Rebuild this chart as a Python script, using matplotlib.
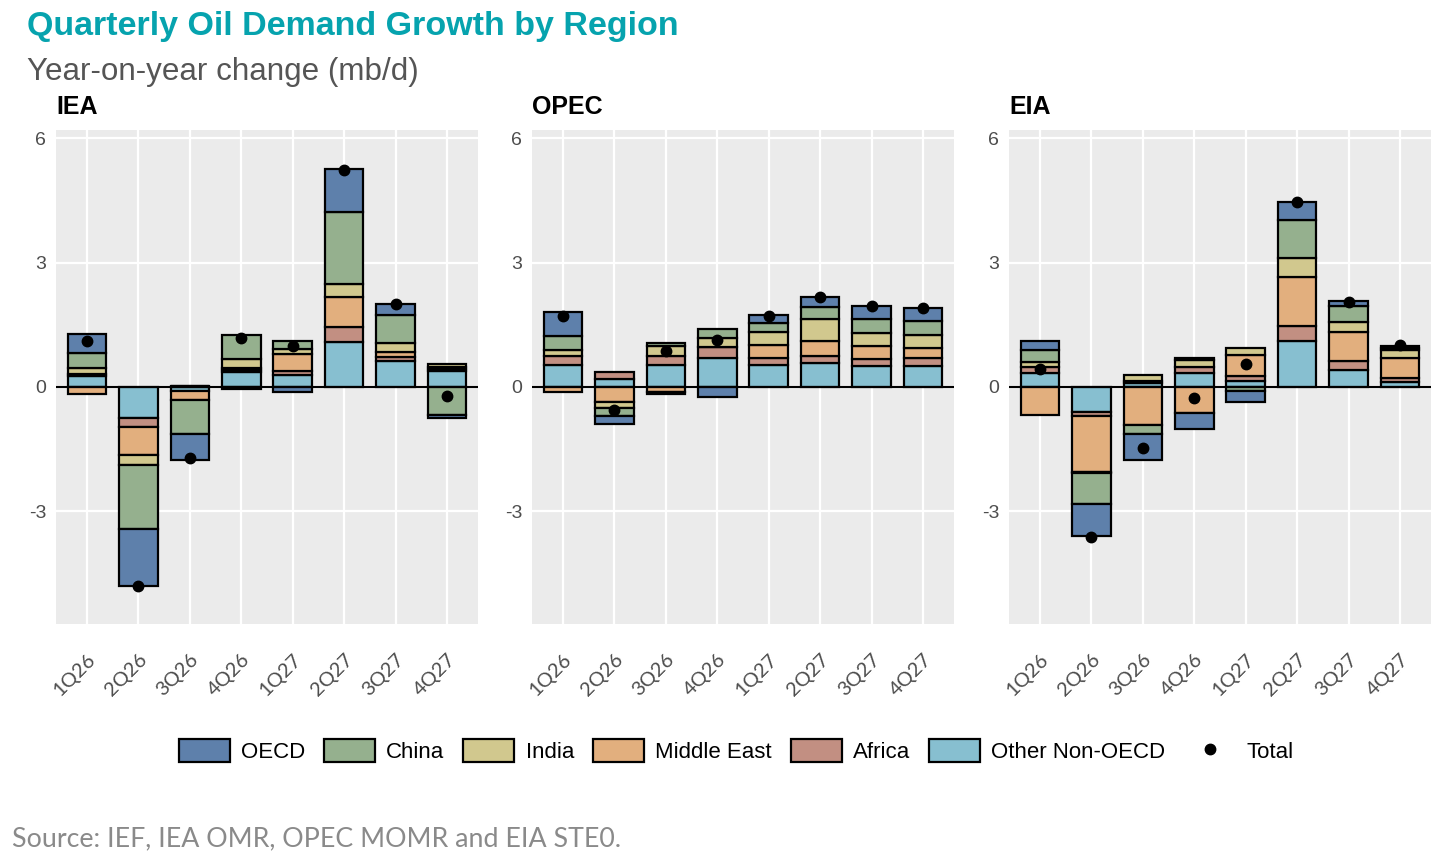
import matplotlib.pyplot as plt
import numpy as np
from matplotlib.patches import Patch
from matplotlib.lines import Line2D

plt.rcParams['font.family'] = ['Liberation Sans', 'DejaVu Sans']

quarters = ["1Q26", "2Q26", "3Q26", "4Q26", "1Q27", "2Q27", "3Q27", "4Q27"]
regions = ["OECD", "China", "India", "Middle East", "Africa", "Other Non-OECD"]
agencies = ["IEA", "OPEC", "EIA"]

# year-on-year change, mb/d
iea_oecd   = [0.46, -1.38, -0.64, -0.05, -0.12, 1.04, 0.28, -0.07]
iea_china  = [0.36, -1.55, -0.81, 0.57, 0.19, 1.74, 0.68, -0.68]
iea_india  = [0.14, -0.23, 0.00, 0.23, 0.12, 0.30, 0.20, 0.06]
iea_mideast = [-0.18, -0.68, -0.22, 0.03, 0.42, 0.74, 0.13, 0.06]
iea_africa = [0.05, -0.23, 0.03, 0.06, 0.10, 0.35, 0.10, 0.05]
iea_other  = [0.26, -0.74, -0.10, 0.36, 0.28, 1.09, 0.62, 0.38]
iea_total  = [1.10, -4.81, -1.72, 1.19, 0.98, 5.23, 2.00, -0.22]

opec_oecd   = [0.58, -0.19, -0.06, -0.25, 0.20, 0.24, 0.33, 0.32]
opec_china  = [0.36, -0.18, 0.08, 0.23, 0.22, 0.30, 0.34, 0.32]
opec_india  = [0.14, -0.16, 0.24, 0.20, 0.31, 0.53, 0.30, 0.31]
opec_mideast = [-0.12, -0.36, -0.12, 0.00, 0.30, 0.36, 0.32, 0.26]
opec_africa = [0.20, 0.16, 0.20, 0.27, 0.17, 0.16, 0.17, 0.18]
opec_other  = [0.54, 0.19, 0.54, 0.70, 0.54, 0.58, 0.50, 0.51]
opec_total  = [1.71, -0.55, 0.86, 1.14, 1.71, 2.16, 1.96, 1.90]

eia_oecd   = [0.22, -0.77, -0.63, -0.38, -0.27, 0.43, 0.12, 0.05]
eia_china  = [0.28, -0.75, -0.20, 0.06, -0.10, 0.92, 0.38, 0.06]
eia_india  = [0.12, -0.03, 0.14, 0.16, 0.16, 0.47, 0.24, 0.18]
eia_mideast = [-0.67, -1.35, -0.93, -0.63, 0.51, 1.18, 0.70, 0.48]
eia_africa = [0.15, -0.10, 0.05, 0.15, 0.11, 0.37, 0.21, 0.10]
eia_other  = [0.33, -0.60, 0.09, 0.33, 0.15, 1.10, 0.42, 0.12]
eia_total  = [0.44, -3.62, -1.47, -0.27, 0.56, 4.47, 2.05, 1.02]

data = {
    "IEA": [iea_oecd, iea_china, iea_india, iea_mideast, iea_africa, iea_other],
    "OPEC": [opec_oecd, opec_china, opec_india, opec_mideast, opec_africa, opec_other],
    "EIA": [eia_oecd, eia_china, eia_india, eia_mideast, eia_africa, eia_other],
}
totals = {"IEA": iea_total, "OPEC": opec_total, "EIA": eia_total}

colors = ["#5E80AB", "#95B08E", "#D1C88E", "#E2AF7E", "#C28F82", "#87BFD0"]

W, H = 1456, 856
fig = plt.figure(figsize=(W / 100, H / 100), dpi=100)

lefts = [56, 532, 1009]
pw = 422
ptop, pbot = 130, 624

x = np.arange(1, len(quarters) + 1)
for ag, left in zip(agencies, lefts):
    ax = fig.add_axes([left / W, 1 - pbot / H, pw / W, (pbot - ptop) / H])
    ax.set_facecolor('#EBEBEB')
    pos = np.zeros(len(x))
    neg = np.zeros(len(x))
    # stack from zero outwards: Other Non-OECD nearest, OECD furthest
    for i in reversed(range(len(regions))):
        v = np.array(data[ag][i])
        base = np.where(v >= 0, pos, neg)
        ax.bar(x, v, 0.75, bottom=base, color=colors[i], edgecolor='black',
               linewidth=1.6, zorder=3)
        pos += np.clip(v, 0, None)
        neg += np.clip(v, None, 0)
    ax.axhline(0, color='black', lw=1.5, zorder=4)
    ax.plot(x, totals[ag], 'o', color='black', ms=7.5, zorder=5)

    ax.set_xlim(0.4, 8.6)
    ax.set_ylim(-5.72, 6.2)
    ax.set_yticks([-3, 0, 3, 6])
    ax.set_yticklabels(["-3", "0", "3", "6"], fontsize=14, color='#4D4D4D')
    ax.set_xticks(x)
    ax.set_xticklabels(quarters, rotation=45, ha='right', va='top',
                       rotation_mode='anchor', fontsize=14.5, color='#4D4D4D',
                       family='Lato')
    ax.tick_params(axis='both', length=0)
    ax.tick_params(axis='y', pad=7)
    ax.tick_params(axis='x', pad=19)
    ax.grid(color='white', lw=1.6)
    ax.set_axisbelow(True)
    for s in ax.spines.values():
        s.set_visible(False)
    fig.text(left / W, 1 - 114 / H, ag, fontsize=18, fontweight='bold',
             va='baseline', ha='left')

fig.text(27 / W, 1 - 35 / H, "Quarterly Oil Demand Growth by Region",
         fontsize=24.5, fontweight='bold', color='#06A3AE', va='baseline')
fig.text(27 / W, 1 - 80 / H, "Year-on-year change (mb/d)",
         fontsize=22.6, color='#555555', va='baseline')

handles = [Patch(facecolor=c, edgecolor='black', linewidth=1.6) for c in colors]
handles.append(Line2D([], [], marker='o', color='black', linestyle='', ms=7.5))
fig.legend(handles, regions + ["Total"], loc='center',
           bbox_to_anchor=(736 / W, 1 - 751 / H), ncol=7, frameon=False,
           fontsize=16, handlelength=2.3, handleheight=1.2,
           handletextpad=0.5, columnspacing=0.85)

fig.text(12 / W, 1 - 846 / H, "Source: IEF, IEA OMR, OPEC MOMR and EIA STE0.",
         fontsize=19.3, color='#8A8A8A', family='Lato', va='baseline')

fig.savefig("out.png", dpi=100)
